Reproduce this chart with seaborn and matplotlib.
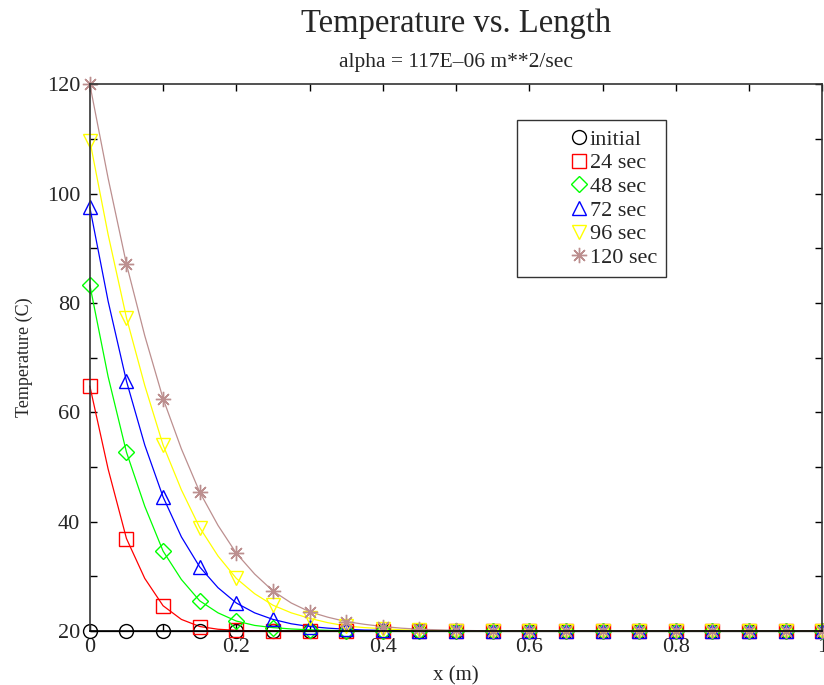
import numpy as np
import pandas as pd
import seaborn as sns
import matplotlib.pyplot as plt
from matplotlib.lines import Line2D
from matplotlib.ticker import MultipleLocator, FuncFormatter

# positions along the rod (m) where the markers sit
x_m = [0.0, 0.05, 0.1, 0.15, 0.2, 0.25, 0.3, 0.35, 0.4, 0.45, 0.5,
       0.55, 0.6, 0.65, 0.7, 0.75, 0.8, 0.85, 0.9, 0.95, 1.0]
# half-way positions, where the curve was read as well
x_mid = [0.025, 0.075, 0.125, 0.175, 0.225, 0.275, 0.325, 0.375, 0.425, 0.475,
         0.525, 0.575, 0.625, 0.675, 0.725, 0.775, 0.825, 0.875, 0.925, 0.975]

# temperatures (C) at the markers
t_initial = [20.0] * 21
t_24 = [64.8, 36.9, 24.6, 20.8, 20.1, 20.0, 20.0, 20.0, 20.0, 20.0, 20.0,
        20.0, 20.0, 20.0, 20.0, 20.0, 20.0, 20.0, 20.0, 20.0, 20.0]
t_48 = [83.3, 52.7, 34.6, 25.5, 21.8, 20.6, 20.2, 20.0, 20.0, 20.0, 20.0,
        20.0, 20.0, 20.0, 20.0, 20.0, 20.0, 20.0, 20.0, 20.0, 20.0]
t_72 = [97.5, 65.7, 44.5, 31.7, 25.1, 22.1, 20.8, 20.3, 20.1, 20.0, 20.0,
        20.0, 20.0, 20.0, 20.0, 20.0, 20.0, 20.0, 20.0, 20.0, 20.0]
t_96 = [109.7, 77.3, 54.0, 38.9, 29.6, 24.7, 22.3, 20.9, 20.4, 20.1, 20.0,
        20.0, 20.0, 20.0, 20.0, 20.0, 20.0, 20.0, 20.0, 20.0, 20.0]
t_120 = [120.0, 87.1, 62.5, 45.4, 34.2, 27.3, 23.5, 21.7, 20.8, 20.3, 20.1,
         20.0, 20.0, 20.0, 20.0, 20.0, 20.0, 20.0, 20.0, 20.0, 20.0]

# temperatures (C) of the smooth curves half-way between markers
m_initial = [20.0] * 20
m_24 = [49.6, 29.6, 22.1, 20.3, 20.0, 20.0, 20.0, 20.0, 20.0, 20.0,
        20.0, 20.0, 20.0, 20.0, 20.0, 20.0, 20.0, 20.0, 20.0, 20.0]
m_48 = [66.5, 42.8, 29.4, 23.3, 21.0, 20.35, 20.1, 20.0, 20.0, 20.0,
        20.0, 20.0, 20.0, 20.0, 20.0, 20.0, 20.0, 20.0, 20.0, 20.0]
m_72 = [80.3, 54.0, 37.2, 27.9, 23.3, 21.3, 20.5, 20.15, 20.05, 20.0,
        20.0, 20.0, 20.0, 20.0, 20.0, 20.0, 20.0, 20.0, 20.0, 20.0]
m_96 = [92.5, 64.9, 45.8, 33.7, 26.8, 23.3, 21.5, 20.6, 20.2, 20.05,
        20.0, 20.0, 20.0, 20.0, 20.0, 20.0, 20.0, 20.0, 20.0, 20.0]
m_120 = [102.8, 74.0, 53.3, 39.3, 30.4, 25.1, 22.5, 21.2, 20.5, 20.2,
         20.05, 20.0, 20.0, 20.0, 20.0, 20.0, 20.0, 20.0, 20.0, 20.0]

labels = ['initial', '24 sec', '48 sec', '72 sec', '96 sec', '120 sec']
series = [t_initial, t_24, t_48, t_72, t_96, t_120]
curves = [m_initial, m_24, m_48, m_72, m_96, m_120]
colors = ['black', '#ff0000', '#00ff00', '#0000ff', '#ffff00', '#bc8f8f']
markers = ['o', 's', 'D', '^', 'v', (8, 2, 0)]
msizes = [10, 10, 8.5, 10, 10, 11]

sns.set_style('ticks')
plt.rcParams['font.family'] = ['Liberation Serif', 'DejaVu Serif']

pts = pd.DataFrame({
    'x': np.tile(x_m, len(series)),
    'T': np.concatenate(series),
    'run': np.repeat(labels, len(x_m)),
})
mids = pd.DataFrame({
    'x': np.tile(x_mid, len(curves)),
    'T': np.concatenate(curves),
    'run': np.repeat(labels, len(x_mid)),
})
line_df = pd.concat([pts, mids]).sort_values(['run', 'x'])

fig = plt.figure(figsize=(8.24, 6.85), dpi=100)
ax = fig.add_axes([0.109, 0.079, 0.889, 0.798])

# smooth curves first, open markers on top
for lab, col in zip(labels, colors):
    sns.lineplot(data=line_df[line_df['run'] == lab], x='x', y='T', ax=ax,
                 color=col, linewidth=0.9, clip_on=False, legend=False,
                 sort=True, estimator=None)
for lab, col, mk, ms in zip(labels, colors, markers, msizes):
    sub = pts[pts['run'] == lab]
    ax.plot(sub['x'], sub['T'], linestyle='none', marker=mk, markersize=ms,
            markerfacecolor='none', markeredgecolor=col, markeredgewidth=1.0,
            clip_on=False)

ax.set_xlim(0, 1)
ax.set_ylim(20, 120)
ax.xaxis.set_major_locator(MultipleLocator(0.2))
ax.xaxis.set_minor_locator(MultipleLocator(0.1))
ax.yaxis.set_major_locator(MultipleLocator(20))
ax.yaxis.set_minor_locator(MultipleLocator(10))
ax.xaxis.set_major_formatter(FuncFormatter(lambda v, p: '%g' % v))
ax.tick_params(which='both', direction='in', top=True, right=True,
               labelsize=16, width=1, color='black', length=5)
ax.tick_params(axis='x', pad=5)
ax.tick_params(axis='y', pad=7)
for s in ax.spines.values():
    s.set_linewidth(1.2)
    s.set_color('#333333')
ax.spines['bottom'].set_color('black')

ax.set_xlabel('x (m)', fontsize=15, labelpad=7)
ax.set_ylabel('Temperature (C)', fontsize=13, labelpad=10)

fig.text(0.553, 0.988, 'Temperature vs. Length', ha='center', va='top', fontsize=23.5)
fig.text(0.553, 0.922, 'alpha = 117E\u201306 m**2/sec', ha='center', va='top', fontsize=15.5)

handles = [Line2D([], [], linestyle='none', marker=mk, markersize=ms,
                  markerfacecolor='none', markeredgecolor=col, markeredgewidth=1.0)
           for col, mk, ms in zip(colors, markers, msizes)]
leg = ax.legend(handles, labels, loc='upper left', bbox_to_anchor=(0.583, 0.934),
                borderaxespad=0, fontsize=16, frameon=True, fancybox=False,
                handlelength=4.78, handletextpad=-1.91, labelspacing=0.14,
                borderpad=0.4)
leg.get_frame().set_edgecolor('black')
leg.get_frame().set_linewidth(1.0)

fig.savefig('out.png', dpi=100)
